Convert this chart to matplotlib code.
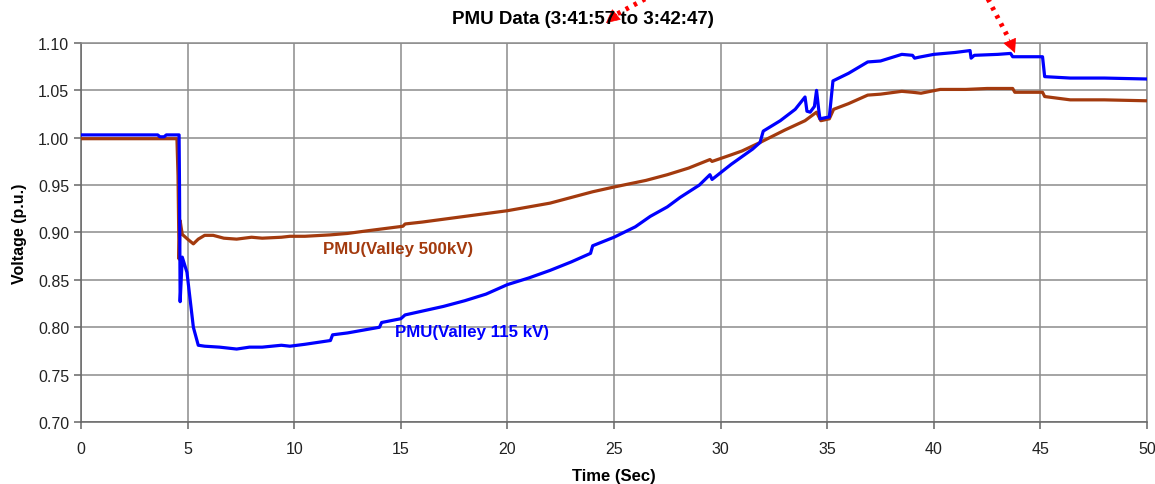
import matplotlib
matplotlib.use("Agg")
import matplotlib.pyplot as plt
from matplotlib.lines import Line2D

plt.rcParams["font.family"] = ["Liberation Sans", "DejaVu Sans"]

# PMU(Valley 115 kV) trace
t_115 = [0, 3.6, 3.7, 3.9, 4.0, 4.6, 4.62, 4.65, 4.75, 4.97, 5.27, 5.5, 5.8, 6.5,
         7.3, 7.9, 8.5, 9.4, 9.8, 10.5, 11.7, 11.8, 12.5, 13.5, 14.0, 14.1, 15.0,
         15.2, 16, 17, 18, 19, 20, 21, 22, 23, 23.9, 24.0, 25, 26, 26.7, 27.5,
         28.1, 29.0, 29.5, 29.6, 30.5, 31.5, 31.85, 32.0, 32.8, 33.5, 33.96,
         34.05, 34.2, 34.4, 34.5, 34.6, 34.66, 35.1, 35.27, 36, 36.9, 37.5,
         38.5, 39.0, 39.1, 39.3, 40, 41.0, 41.7, 41.75, 41.9, 43.0, 43.6, 43.7,
         45.1, 45.2, 46.4, 48, 50]
v_115 = [1.003, 1.003, 1.001, 1.001, 1.003, 1.003, 0.95, 0.827, 0.874, 0.858,
         0.80, 0.781, 0.780, 0.779, 0.777, 0.779, 0.779, 0.781, 0.780, 0.782,
         0.786, 0.792, 0.794, 0.798, 0.800, 0.805, 0.809, 0.813, 0.817, 0.822,
         0.828, 0.835, 0.845, 0.852, 0.860, 0.869, 0.878, 0.886, 0.895, 0.906,
         0.917, 0.927, 0.937, 0.950, 0.961, 0.956, 0.972, 0.988, 0.995, 1.007,
         1.018, 1.030, 1.043, 1.028, 1.027, 1.033, 1.05, 1.03, 1.02, 1.022,
         1.06, 1.068, 1.08, 1.081, 1.088, 1.087, 1.084, 1.085, 1.088, 1.090,
         1.092, 1.084, 1.087, 1.088, 1.089, 1.0855, 1.0855, 1.0645, 1.063,
         1.063, 1.062]

# PMU(Valley 500kV) trace
t_500 = [0, 4.5, 4.55, 4.6, 4.65, 4.7, 4.75, 5.0, 5.27, 5.5, 5.8, 6.2, 6.7, 7.3,
         8.0, 8.5, 9.4, 9.8, 10.5, 11.7, 12.5, 13.5, 15.1, 15.2, 16, 17, 18, 19,
         20, 21, 22, 23, 24, 25, 26.5, 27.5, 28.5, 29.5, 29.6, 30.5, 31.0, 31.85,
         33.0, 33.96, 34.5, 34.7, 35.1, 35.3, 36.0, 36.9, 37.5, 38.5, 39.0, 39.4,
         40.3, 41.5, 42.5, 43.7, 43.8, 45.1, 45.2, 46.4, 48, 50]
v_500 = [0.999, 0.999, 0.96, 0.872, 0.9125, 0.905, 0.898, 0.893, 0.888, 0.893,
         0.897, 0.897, 0.894, 0.893, 0.895, 0.894, 0.895, 0.896, 0.896, 0.8975,
         0.899, 0.902, 0.9066, 0.909, 0.911, 0.914, 0.917, 0.920, 0.923, 0.927,
         0.931, 0.937, 0.943, 0.948, 0.955, 0.961, 0.968, 0.977, 0.975, 0.982,
         0.986, 0.995, 1.008, 1.018, 1.027, 1.018, 1.020, 1.030, 1.036, 1.045,
         1.046, 1.049, 1.048, 1.047, 1.051, 1.051, 1.052, 1.052, 1.048, 1.048,
         1.0435, 1.040, 1.040, 1.039]

x_ticks = [0, 5, 10, 15, 20, 25, 30, 35, 40, 45, 50]
y_ticks = [0.70, 0.75, 0.80, 0.85, 0.90, 0.95, 1.00, 1.05, 1.10]

BLUE = "#0000ff"
BROWN = "#a33a0e"
GRID = "#8c8c8c"

fig = plt.figure(figsize=(11.55, 4.85), dpi=100)
ax = fig.add_axes([81 / 1155, 62 / 485, 1066 / 1155, 379 / 485])

ax.plot(t_500, v_500, color=BROWN, lw=2.3, solid_joinstyle="round", zorder=3)
ax.plot(t_115, v_115, color=BLUE, lw=2.3, solid_joinstyle="round", zorder=4)

ax.set_xlim(0, 50)
ax.set_ylim(0.70, 1.10)
ax.set_xticks(x_ticks)
ax.set_yticks(y_ticks)
ax.set_yticklabels([f"{y:.2f}" for y in y_ticks])
ax.grid(True, color=GRID, lw=1.1)
ax.set_axisbelow(True)
for sp in ax.spines.values():
    sp.set_color(GRID)
    sp.set_linewidth(1.1)
ax.spines["bottom"].set_color("#666666")
ax.spines["left"].set_color("#666666")
ax.tick_params(colors="#666666", labelcolor="#222222", labelsize=11.5, length=5, width=1.1)
ax.tick_params(axis="x", pad=9)

ax.set_xlabel("Time (Sec)", fontsize=12, fontweight="bold", labelpad=8)
ax.set_ylabel("Voltage (p.u.)", fontsize=11.5, fontweight="bold", labelpad=8)
fig.text(583 / 1155, (485 - 19) / 485, "PMU Data (3:41:57 to 3:42:47)",
         fontsize=13.5, fontweight="bold", ha="center", va="center")

ax.text(14.87, 0.8827, "PMU(Valley 500kV)", color=BROWN, fontsize=12.2,
        fontweight="bold", ha="center", va="center")
ax.text(18.34, 0.795, "PMU(Valley 115 kV)", color=BLUE, fontsize=12.2,
        fontweight="bold", ha="center", va="center")

# red dotted pointer arrows above the plot
H = 485
for (x0, y0), (x1, y1), (hx, hy) in [((645, 0), (617, 15), (606, 24)),
                                      ((988, 0), (1009, 40), (1015, 54))]:
    fig.add_artist(Line2D([x0 / 1155, x1 / 1155], [(H - y0) / H, (H - y1) / H],
                          transform=fig.transFigure, color="red", lw=3.5,
                          linestyle=(0, (0.7, 1.2)), zorder=10))
    ax.annotate("", xy=(hx, H - hy), xytext=(x1, H - y1),
                xycoords="figure pixels", textcoords="figure pixels",
                arrowprops=dict(arrowstyle="-|>,head_length=0.9,head_width=0.45",
                                color="red", lw=0.5, shrinkA=0, shrinkB=0),
                annotation_clip=False, zorder=10)

fig.savefig("out.png", dpi=100)
